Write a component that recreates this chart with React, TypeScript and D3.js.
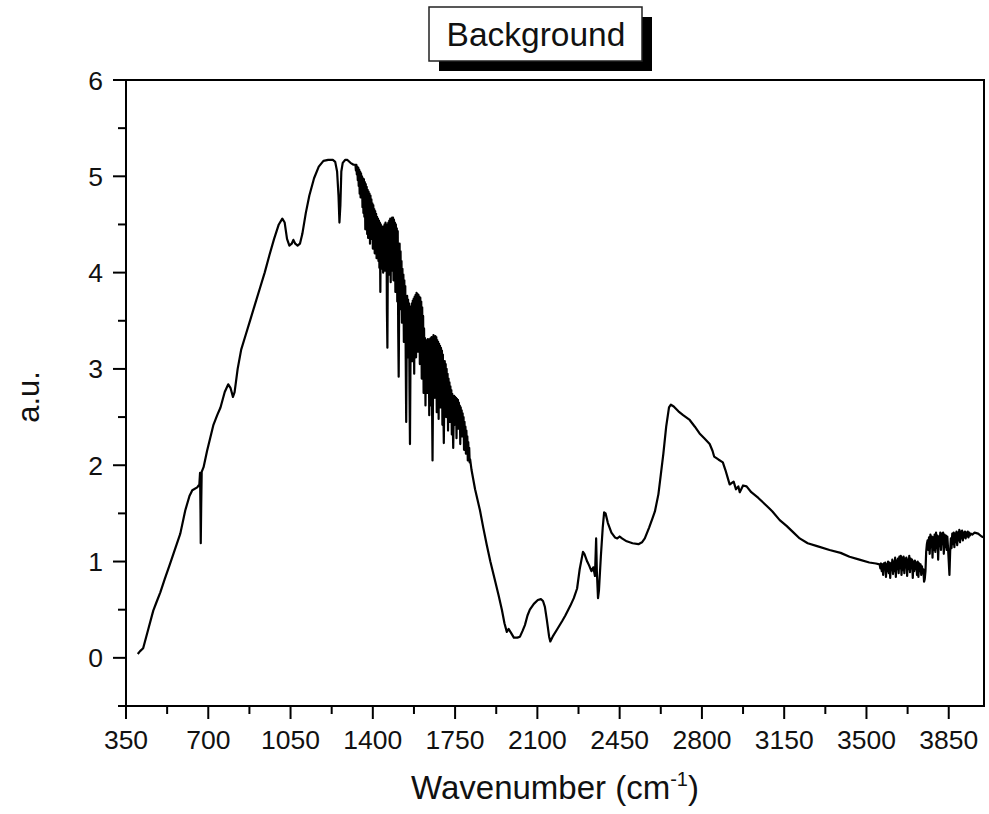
import React from "react";
import * as d3 from "d3";

// ---- Data (wavenumber cm^-1, intensity a.u.) ----
const lowRegion: [number, number][] = [
  [400, 0.04], [410, 0.07], [423, 0.10], [445, 0.30], [466, 0.49], [480, 0.58], [496, 0.68],
  [515, 0.82], [538, 0.98], [560, 1.14], [581, 1.29], [602, 1.53], [620, 1.68], [632, 1.74],
  [653, 1.77], [662, 1.80], [665, 1.92], [667, 1.50], [668, 1.19], [670, 1.60], [672, 1.93],
  [680, 1.98], [695, 2.15], [708, 2.28], [722, 2.42], [738, 2.52], [752, 2.60], [770, 2.76],
  [785, 2.84], [795, 2.80], [805, 2.71], [812, 2.76], [825, 3.00], [840, 3.20], [860, 3.36],
  [880, 3.52], [900, 3.68], [920, 3.84], [940, 4.00], [960, 4.18], [980, 4.35], [1000, 4.50],
  [1015, 4.56], [1025, 4.52], [1035, 4.35], [1045, 4.28], [1055, 4.30], [1062, 4.34],
  [1070, 4.30], [1080, 4.28], [1090, 4.30], [1100, 4.40], [1115, 4.62], [1130, 4.80],
  [1150, 4.98], [1170, 5.10], [1190, 5.16], [1210, 5.17], [1230, 5.17], [1240, 5.15],
  [1248, 5.05], [1254, 4.80], [1258, 4.52], [1262, 4.70], [1266, 5.05], [1272, 5.14],
  [1282, 5.17], [1292, 5.17], [1305, 5.14], [1318, 5.12],
];

const noisyRegion1: [number, number][] = [
  [1326, 5.12], [1328, 5.06], [1330, 5.12], [1332, 5.02], [1334, 5.10], [1336, 4.96], [1338, 5.09],
  [1340, 4.90], [1342, 5.07], [1344, 4.82], [1346, 5.05], [1348, 4.78], [1350, 5.03], [1352, 4.85],
  [1354, 5.00], [1356, 4.68], [1358, 4.98], [1360, 4.62], [1362, 4.97], [1364, 4.58], [1366, 4.94],
  [1368, 4.45], [1370, 4.92], [1372, 4.52], [1374, 4.89], [1376, 4.40], [1378, 4.86], [1380, 4.36],
  [1382, 4.84], [1384, 4.45], [1386, 4.82], [1388, 4.30], [1390, 4.80], [1392, 4.35], [1394, 4.76],
  [1396, 4.38], [1398, 4.72], [1400, 4.25], [1402, 4.70], [1404, 4.32], [1406, 4.66], [1408, 4.20],
  [1410, 4.64], [1412, 4.26], [1414, 4.61], [1416, 4.15], [1418, 4.58], [1420, 4.20], [1422, 4.56],
  [1424, 4.12], [1426, 4.54], [1428, 4.05], [1430, 4.52], [1432, 3.80], [1434, 4.50], [1436, 4.04],
  [1438, 4.48], [1440, 4.12], [1442, 4.47], [1444, 4.00], [1446, 4.48], [1448, 4.10], [1450, 4.50],
  [1452, 4.02], [1454, 4.52], [1456, 4.15], [1458, 4.50], [1460, 3.60], [1462, 3.22], [1464, 4.20],
  [1466, 4.52], [1468, 3.98], [1470, 4.54], [1472, 4.08], [1474, 4.56], [1476, 3.90], [1478, 4.55],
  [1480, 4.02], [1482, 4.57], [1484, 4.10], [1486, 4.57], [1488, 3.92], [1490, 4.55], [1492, 4.05],
  [1494, 4.52], [1496, 3.80], [1498, 4.50], [1500, 3.88], [1502, 4.46], [1504, 3.70], [1506, 4.43],
  [1508, 3.40], [1510, 2.92], [1512, 3.60], [1514, 4.30], [1516, 3.62], [1518, 4.22], [1520, 3.68],
  [1522, 4.12], [1524, 3.48], [1526, 4.04], [1528, 3.52], [1530, 3.98], [1532, 3.28], [1534, 3.92],
  [1536, 3.38], [1538, 3.86], [1540, 3.10], [1542, 2.45], [1544, 3.20], [1546, 3.76], [1548, 3.12],
  [1550, 3.72], [1552, 3.22], [1554, 3.68], [1556, 2.80], [1558, 2.22], [1560, 3.00], [1562, 3.65],
  [1564, 3.18], [1566, 3.68], [1568, 3.08], [1570, 3.71], [1572, 3.22], [1574, 3.73], [1576, 2.95],
  [1578, 3.75], [1580, 3.28], [1582, 3.77], [1584, 3.12], [1586, 3.79], [1588, 3.32], [1590, 3.78],
  [1592, 3.18], [1594, 3.77], [1596, 3.28], [1598, 3.75], [1600, 3.05], [1602, 3.74], [1604, 3.20],
  [1606, 3.70], [1608, 2.90], [1610, 3.64], [1612, 3.05], [1614, 3.55], [1616, 2.75], [1618, 3.42],
  [1620, 2.95], [1622, 3.32], [1624, 2.62], [1626, 3.30], [1628, 2.85], [1630, 3.30], [1632, 2.75],
  [1634, 3.31], [1636, 2.90], [1638, 3.30], [1640, 2.52], [1642, 3.31], [1644, 2.80], [1646, 3.32],
  [1648, 2.62], [1650, 3.33], [1652, 2.60], [1654, 2.05], [1656, 2.70], [1658, 3.35], [1660, 2.85],
  [1662, 3.34], [1664, 2.70], [1666, 3.34], [1668, 2.88], [1670, 3.33], [1672, 2.55], [1674, 3.30],
  [1676, 2.80], [1678, 3.28], [1680, 2.48], [1682, 3.26], [1684, 2.75], [1686, 3.24], [1688, 2.60],
  [1690, 3.22], [1692, 2.78], [1694, 3.19], [1696, 2.42], [1698, 3.15], [1700, 2.60], [1702, 2.23],
  [1704, 2.65], [1706, 3.08], [1708, 2.70], [1710, 3.05], [1712, 2.50], [1714, 3.00], [1716, 2.62],
  [1718, 2.95], [1720, 2.36], [1722, 2.90], [1724, 2.55], [1726, 2.86], [1728, 2.45], [1730, 2.82],
  [1732, 2.50], [1734, 2.78], [1736, 2.32], [1738, 2.74], [1740, 2.45], [1742, 2.18], [1744, 2.50],
  [1746, 2.72], [1748, 2.42], [1750, 2.71], [1752, 2.50], [1754, 2.70], [1756, 2.28], [1758, 2.69],
  [1760, 2.45], [1762, 2.68], [1764, 2.38], [1766, 2.65], [1768, 2.42], [1770, 2.62], [1772, 2.22],
  [1774, 2.60], [1776, 2.35], [1778, 2.57], [1780, 2.30], [1782, 2.54], [1784, 2.32], [1786, 2.50],
  [1788, 2.16], [1790, 2.45], [1792, 2.25], [1794, 2.40], [1796, 2.12], [1798, 2.36], [1800, 2.18],
  [1802, 2.30], [1804, 2.05], [1806, 2.24], [1808, 2.08], [1810, 2.18], [1812, 2.03], [1814, 2.06],
];

const midRegion: [number, number][] = [
  [1820, 1.95], [1835, 1.75], [1856, 1.53], [1870, 1.35], [1885, 1.17], [1900, 1.00],
  [1919, 0.81], [1935, 0.65], [1949, 0.50], [1960, 0.36], [1970, 0.27], [1978, 0.30],
  [1988, 0.26], [2000, 0.21], [2015, 0.21], [2026, 0.22], [2037, 0.28], [2047, 0.34],
  [2058, 0.44], [2068, 0.50], [2085, 0.56], [2102, 0.60], [2115, 0.61], [2124, 0.59],
  [2132, 0.53], [2140, 0.40], [2150, 0.22], [2155, 0.17], [2165, 0.22], [2185, 0.30],
  [2205, 0.38], [2219, 0.44], [2240, 0.54], [2255, 0.62], [2269, 0.72], [2280, 0.92],
  [2294, 1.10], [2300, 1.08], [2312, 1.00], [2320, 0.96], [2330, 0.90], [2338, 0.94],
  [2345, 0.85], [2350, 1.24], [2353, 0.90], [2358, 0.62], [2362, 0.70], [2370, 1.05],
  [2378, 1.35], [2384, 1.51], [2390, 1.50], [2400, 1.40], [2415, 1.30], [2430, 1.25],
  [2440, 1.24], [2450, 1.26], [2460, 1.24], [2480, 1.21], [2505, 1.19], [2530, 1.18],
  [2545, 1.20], [2557, 1.24], [2575, 1.35], [2590, 1.45], [2600, 1.52], [2615, 1.70],
  [2625, 1.90], [2636, 2.12], [2648, 2.40], [2660, 2.60], [2668, 2.63], [2680, 2.61],
  [2700, 2.56], [2720, 2.52], [2748, 2.47], [2770, 2.40], [2790, 2.33], [2810, 2.28],
  [2833, 2.22], [2845, 2.15], [2852, 2.09], [2870, 2.06], [2889, 2.03], [2900, 1.95],
  [2912, 1.85], [2918, 1.80], [2935, 1.83], [2945, 1.75], [2955, 1.78], [2961, 1.72],
  [2975, 1.79], [2990, 1.78], [3010, 1.72], [3040, 1.66], [3075, 1.58], [3100, 1.52],
  [3131, 1.43], [3160, 1.37], [3190, 1.30], [3216, 1.24], [3250, 1.19], [3290, 1.16],
  [3343, 1.12], [3390, 1.09], [3428, 1.05], [3470, 1.02], [3512, 0.99], [3540, 0.98],
];

const noisyRegion2: [number, number][] = [
  [3556, 0.97], [3559, 0.93], [3562, 0.98], [3565, 0.90], [3568, 0.97], [3571, 0.86], [3574, 0.98],
  [3577, 0.92], [3580, 0.99], [3583, 0.84], [3586, 0.97], [3589, 0.90], [3592, 1.00], [3595, 0.88],
  [3598, 0.99], [3601, 0.83], [3604, 0.98], [3607, 0.91], [3610, 1.02], [3613, 0.87], [3616, 1.00],
  [3619, 0.90], [3622, 1.04], [3625, 0.84], [3628, 1.01], [3631, 0.92], [3634, 1.03], [3637, 0.88],
  [3640, 1.05], [3643, 0.93], [3646, 1.06], [3649, 0.86], [3652, 1.04], [3655, 0.91], [3658, 1.05],
  [3661, 0.88], [3664, 1.03], [3667, 0.94], [3670, 1.04], [3673, 0.85], [3676, 1.02], [3679, 0.92],
  [3682, 1.06], [3685, 0.89], [3688, 1.03], [3691, 0.93], [3694, 1.02], [3697, 0.83], [3700, 1.00],
  [3703, 0.90], [3706, 1.01], [3709, 0.92], [3712, 0.99], [3715, 0.86], [3718, 1.00], [3721, 0.84],
  [3724, 0.98], [3727, 0.90], [3730, 0.97], [3733, 0.86], [3736, 0.95], [3739, 0.88], [3742, 0.92],
  [3745, 0.79], [3748, 0.82], [3751, 0.90], [3754, 1.10], [3757, 1.18], [3760, 1.22], [3763, 1.12],
  [3766, 1.25], [3769, 1.08], [3772, 1.28], [3775, 1.15], [3778, 1.26], [3781, 1.04], [3784, 1.25],
  [3787, 1.12], [3790, 1.28], [3793, 1.10], [3796, 1.30], [3799, 1.14], [3802, 1.27], [3805, 1.02],
  [3808, 1.26], [3811, 1.16], [3814, 1.30], [3817, 1.12], [3820, 1.29], [3823, 1.18], [3826, 1.30],
  [3829, 1.08], [3832, 1.28], [3835, 1.15], [3838, 1.27], [3841, 1.12], [3844, 1.26], [3847, 1.14],
  [3850, 1.00], [3853, 0.86], [3856, 1.10], [3859, 1.24], [3862, 1.14], [3865, 1.29], [3868, 1.18],
  [3871, 1.30], [3874, 1.15], [3877, 1.29], [3880, 1.20], [3883, 1.31], [3886, 1.17], [3889, 1.30],
  [3892, 1.22], [3895, 1.33], [3898, 1.20], [3901, 1.31], [3904, 1.24], [3907, 1.32], [3910, 1.22],
  [3913, 1.30], [3916, 1.25], [3919, 1.31], [3922, 1.24], [3925, 1.30], [3928, 1.26], [3931, 1.31],
  [3934, 1.25], [3937, 1.30], [3940, 1.27], [3944, 1.29], [3950, 1.28], [3960, 1.30], [3975, 1.29],
  [3990, 1.26], [4000, 1.25],
];

const xMajorTicks = [350, 700, 1050, 1400, 1750, 2100, 2450, 2800, 3150, 3500, 3850];
const yMajorTicks = [0, 1, 2, 3, 4, 5, 6];
const titleText = "Background";
const xAxisLabel = "Wavenumber (cm";
const yAxisLabel = "a.u.";

const W = 989;
const H = 814;
const left = 126;
const right = 984;
const top = 80;
const bottom = 706;

export default function App() {
  const x = d3.scaleLinear().domain([350, 4000]).range([left, right]);
  const y = d3.scaleLinear().domain([-0.5, 6]).range([bottom, top]);
  const data = [...lowRegion, ...noisyRegion1, ...midRegion, ...noisyRegion2];
  const line = d3
    .line<[number, number]>()
    .x((d) => x(d[0]))
    .y((d) => y(d[1]));

  const xMinor = xMajorTicks.map((t) => t + 175).filter((t) => t < 4000);
  const yMinor = [-0.5, ...yMajorTicks.map((t) => t + 0.5)].filter((t) => t < 6);
  const font = "Arial, 'Liberation Sans', sans-serif";
  const majorLen = 13;
  const minorLen = 8;

  return (
    <svg
      width={W}
      height={H}
      style={{ position: "absolute", left: 0, top: 0, background: "#fff" }}
      fontFamily={font}
    >
      <rect x={0} y={0} width={W} height={H} fill="#fff" />
      <defs>
        <clipPath id="plotClip">
          <rect x={left} y={top} width={right - left} height={bottom - top} />
        </clipPath>
      </defs>
      <path
        d={line(data) || ""}
        fill="none"
        stroke="#000"
        strokeWidth={2.2}
        strokeLinejoin="round"
        clipPath="url(#plotClip)"
      />
      {/* frame */}
      <rect x={left} y={top} width={right - left} height={bottom - top} fill="none" stroke="#000" strokeWidth={2} />
      {/* x ticks */}
      {xMajorTicks.map((t) => (
        <g key={"xm" + t}>
          <line x1={x(t)} x2={x(t)} y1={bottom} y2={bottom + majorLen} stroke="#000" strokeWidth={2} />
          <text x={x(t)} y={749} fontSize={26.5} textAnchor="middle" fill="#111">
            {t}
          </text>
        </g>
      ))}
      {xMinor.map((t) => (
        <line key={"xn" + t} x1={x(t)} x2={x(t)} y1={bottom} y2={bottom + minorLen} stroke="#000" strokeWidth={2} />
      ))}
      {/* y ticks */}
      {yMajorTicks.map((t) => (
        <g key={"ym" + t}>
          <line x1={left - majorLen} x2={left} y1={y(t)} y2={y(t)} stroke="#000" strokeWidth={2} />
          <text x={103} y={y(t) + 9.5} fontSize={26.5} textAnchor="end" fill="#111">
            {t}
          </text>
        </g>
      ))}
      {yMinor.map((t) => (
        <line key={"yn" + t} x1={left - minorLen} x2={left} y1={y(t)} y2={y(t)} stroke="#000" strokeWidth={2} />
      ))}
      {/* axis titles */}
      <text x={555} y={799} fontSize={33} textAnchor="middle" fill="#111">
        {xAxisLabel}
        <tspan fontSize={20} dy={-13}>-1</tspan>
        <tspan dy={13}>)</tspan>
      </text>
      <text
        transform={`translate(39, ${(top + bottom) / 2 + 4}) rotate(-90)`}
        fontSize={31}
        textAnchor="middle"
        fill="#111"
      >
        {yAxisLabel}
      </text>
      {/* title box */}
      <rect x={439} y={17} width={213} height={54} fill="#000" />
      <rect x={429} y={7} width={213} height={54} fill="#fff" stroke="#222" strokeWidth={1.5} />
      <text x={536} y={46} fontSize={33.5} textAnchor="middle" fill="#111">
        {titleText}
      </text>
    </svg>
  );
}
